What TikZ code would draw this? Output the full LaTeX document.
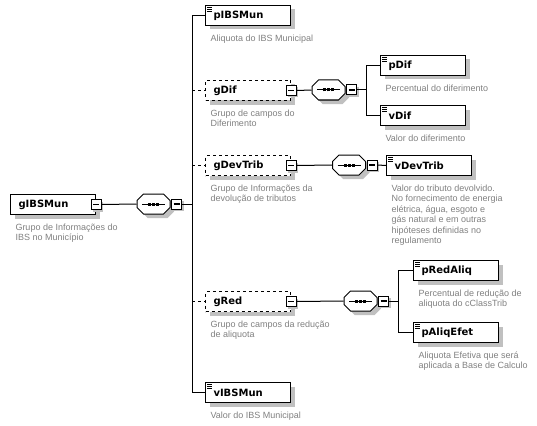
\documentclass[tikz,border=0pt]{standalone}
\usepackage{fontspec}
\setmainfont{Liberation Sans}
\newfontfamily\namefont{DejaVu Sans}
\usetikzlibrary{positioning, shapes.misc, shadows}
\definecolor{descgray}{RGB}{128,128,128}
\definecolor{shadegray}{RGB}{192,192,192}
\newcommand{\minusbar}{\rule{6pt}{1.4pt}}
\newcommand{\seqbar}{\rule[1pt]{6pt}{1pt}\rule{3pt}{3pt}\rule[1pt]{1pt}{1pt}\rule{3pt}{3pt}\rule[1pt]{1pt}{1pt}\rule{3pt}{3pt}\rule[1pt]{6pt}{1pt}}
\newcommand{\elemicon}[1]{\foreach \iy in {2,4,6} \draw[line width=0.8pt] ([shift={(2,\iy)}]#1.north west) -- ++(5,0);}
\begin{document}
\begin{tikzpicture}[x=1pt, y=-1pt, line width=1pt,
  elem/.style={draw, fill=white, anchor=north west, minimum width=85pt, minimum height=20pt,
    text width=69pt, inner xsep=8pt, inner ysep=0pt, align=left,
    font=\namefont\bfseries\fontsize{10}{12}\selectfont,
    drop shadow={shadow xshift=4pt, shadow yshift=-4pt, fill=shadegray, opacity=1}},
  optelem/.style={elem, dashed},
  minus/.style={draw, fill=white, minimum size=10pt, inner sep=0pt, text height=1.4pt, text depth=0pt,
    drop shadow={shadow xshift=2pt, shadow yshift=-2pt, fill=shadegray, opacity=1}},
  seq/.style={draw, fill=white, chamfered rectangle, chamfered rectangle xsep=5pt, chamfered rectangle ysep=5pt,
    minimum width=33pt, minimum height=20pt, inner sep=0pt, text height=3pt, text depth=0pt,
    drop shadow={shadow xshift=4pt, shadow yshift=-4pt, fill=shadegray, opacity=1}},
  desc/.style={anchor=north west, inner sep=0pt, align=left, text=descgray, font=\fontsize{9}{10.5}\selectfont}]
\useasboundingbox (0,0) rectangle (537,425);
\node[elem] (gIBSMun) at (10,194) {gIBSMun};
\node[minus] (gIBSMunM) at (gIBSMun.east) {\minusbar};
\node[desc, below right=8pt and 5pt of gIBSMun.south west] (gIBSMunD) {Grupo de Informações do\\IBS no Município};
\node[seq] (seq1) at (153.5,204) {\seqbar};
\node[minus] (seq1M) at ([xshift=6pt]seq1.east) {\minusbar};
\coordinate (bus1) at (192,204);
\node[elem] (pIBSMun) at (205,5) {pIBSMun};
\elemicon{pIBSMun}
\node[desc, below right=8pt and 5pt of pIBSMun.south west] (pIBSMunD) {Aliquota do IBS Municipal};
\node[optelem] (gDif) at (205,80) {gDif};
\node[minus] (gDifM) at (gDif.east) {\minusbar};
\node[desc, below right=8pt and 5pt of gDif.south west] (gDifD) {Grupo de campos do\\Diferimento};
\node[seq] (seq2) at (328.5,90) {\seqbar};
\node[minus] (seq2M) at ([xshift=6pt]seq2.east) {\minusbar};
\coordinate (bus2) at (366,90);
\node[elem] (pDif) at (380,55) {pDif};
\elemicon{pDif}
\node[desc, below right=8pt and 5pt of pDif.south west] (pDifD) {Percentual do diferimento};
\node[elem] (vDif) at (380,105) {vDif};
\elemicon{vDif}
\node[desc, below right=8pt and 5pt of vDif.south west] (vDifD) {Valor do diferimento};
\node[optelem] (gDevTrib) at (205,155) {gDevTrib};
\node[minus] (gDevTribM) at (gDevTrib.east) {\minusbar};
\node[desc, below right=8pt and 5pt of gDevTrib.south west] (gDevTribD) {Grupo de Informações da\\devolução de tributos};
\node[seq] (seq3) at (349,165) {\seqbar};
\node[minus] (seq3M) at ([xshift=6pt]seq3.east) {\minusbar};
\node[elem] (vDevTrib) at (386,155) {vDevTrib};
\elemicon{vDevTrib}
\node[desc, below right=8pt and 5pt of vDevTrib.south west] (vDevTribD) {Valor do tributo devolvido.\\No fornecimento de energia\\elétrica, água, esgoto e\\gás natural e em outras\\hipóteses definidas no\\regulamento};
\node[optelem] (gRed) at (205,291) {gRed};
\node[minus] (gRedM) at (gRed.east) {\minusbar};
\node[desc, below right=8pt and 5pt of gRed.south west] (gRedD) {Grupo de campos da redução\\de aliquota};
\node[seq] (seq4) at (360.5,301) {\seqbar};
\node[minus] (seq4M) at ([xshift=6pt]seq4.east) {\minusbar};
\coordinate (bus4) at (398,301);
\node[elem] (pRedAliq) at (413,260) {pRedAliq};
\elemicon{pRedAliq}
\node[desc, below right=8pt and 5pt of pRedAliq.south west] (pRedAliqD) {Percentual de redução de\\aliquota do cClassTrib};
\node[elem] (pAliqEfet) at (413,322) {pAliqEfet};
\elemicon{pAliqEfet}
\node[desc, below right=8pt and 5pt of pAliqEfet.south west] (pAliqEfetD) {Aliquota Efetiva que será\\aplicada a Base de Calculo};
\node[elem] (vIBSMun) at (205,382) {vIBSMun};
\elemicon{vIBSMun}
\node[desc, below right=8pt and 5pt of vIBSMun.south west] (vIBSMunD) {Valor do IBS Municipal};
\draw (gIBSMunM.east) -- (seq1.west);
\draw (seq1M.east) -- (bus1);
\draw (bus1) |- (pIBSMun.west);
\draw (bus1) |- (vIBSMun.west);
\draw[dashed] (bus1 |- gDif.west) -- (gDif.west);
\draw[dashed] (bus1 |- gDevTrib.west) -- (gDevTrib.west);
\draw[dashed] (bus1 |- gRed.west) -- (gRed.west);
\draw (gDifM.east) -- (seq2.west);
\draw (seq2M.east) -- (bus2);
\draw (bus2) |- (pDif.west);
\draw (bus2) |- (vDif.west);
\draw (gDevTribM.east) -- (seq3.west);
\draw (seq3M.east) -- (vDevTrib.west);
\draw (gRedM.east) -- (seq4.west);
\draw (seq4M.east) -- (bus4);
\draw (bus4) |- (pRedAliq.west);
\draw (bus4) |- (pAliqEfet.west);
\end{tikzpicture}
\end{document}
